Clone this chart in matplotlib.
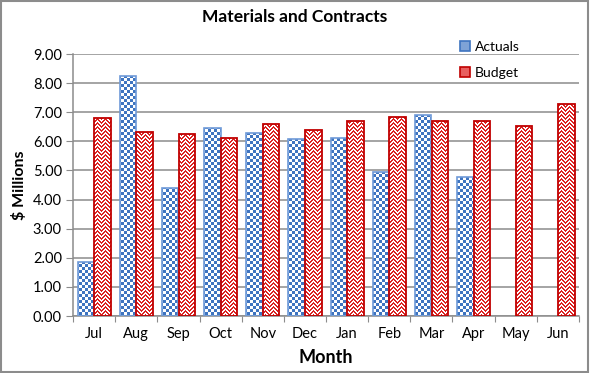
import matplotlib
matplotlib.use("Agg")
import matplotlib.pyplot as plt
import numpy as np
from matplotlib.path import Path
from matplotlib.patches import Patch, Rectangle

months = ['Jul', 'Aug', 'Sep', 'Oct', 'Nov', 'Dec', 'Jan', 'Feb', 'Mar', 'Apr', 'May', 'Jun']
actuals = [1.84, 8.23, 4.41, 6.47, 6.29, 6.08, 6.13, 4.95, 6.92, 4.79]
budget = [6.81, 6.33, 6.24, 6.11, 6.60, 6.40, 6.69, 6.85, 6.71, 6.71, 6.51, 7.27]

blue = '#3E74C0'
blue_edge = '#6E9AD8'
red = '#DC2222'
red_edge = '#C00000'

plt.rcParams['font.family'] = ['Lato', 'DejaVu Sans']

fig = plt.figure(figsize=(5.9, 3.73), dpi=100)
ax = fig.add_axes([73/590, 1-316/373, 506/590, 262/373])

x = np.arange(len(months))
w = 0.39
b1 = ax.bar(x[:len(actuals)] - w/2, actuals, width=w, facecolor='none',
            edgecolor=blue_edge, linewidth=1.2, zorder=3)
b2 = ax.bar(x - w/2 + w + 0.005, budget, width=w, facecolor='none',
            edgecolor=red_edge, linewidth=1.3, zorder=3)

ax.set_xlim(-0.5, len(months) - 0.5)
ax.set_ylim(0, 9)

# pattern fills, clipped to the bars
H, W = 262, 506
r, c = np.indices((H, W))
checker = ((r // 3 + c // 3) % 2 == 0)
zig = ((r + np.abs(c % 8 - 4)) % 4) < 2

def fill(bars, mask, color):
    rgb = np.array(matplotlib.colors.to_rgb(color))
    img = np.ones((H, W, 3))
    img[mask] = rgb
    im = ax.imshow(img, extent=(-0.5, len(months) - 0.5, 0, 9), aspect='auto',
                   interpolation='nearest', zorder=2, origin='upper')
    paths = []
    for p in bars:
        x0, y0 = p.get_x(), p.get_y()
        x1, y1 = x0 + p.get_width(), y0 + p.get_height()
        paths.append(Path([[x0, y0], [x1, y0], [x1, y1], [x0, y1], [x0, y0]], closed=True))
    im.set_clip_path(Path.make_compound_path(*paths), transform=ax.transData)

fill(b1, checker, blue)
fill(b2, zig, red)

ax.set_yticks(np.arange(0, 10, 1))
ax.set_yticklabels(['%.2f' % v for v in np.arange(0, 10, 1)], fontsize=10.5)
ax.yaxis.grid(True, color='#8C8C8C', linewidth=1.1, zorder=1)
ax.set_axisbelow(True)

ax.set_xticks(np.arange(-0.5, len(months), 1))
ax.set_xticklabels([])
ax.set_xticks(x, minor=True)
ax.set_xticklabels(months, minor=True, fontsize=10.5)
ax.tick_params(axis='x', which='minor', length=0, pad=8)
ax.tick_params(axis='x', which='major', length=4, color='#8C8C8C')
ax.tick_params(axis='y', length=5, color='#8C8C8C', pad=3)

for s in ['top', 'right']:
    ax.spines[s].set_visible(False)
for s in ['left', 'bottom']:
    ax.spines[s].set_color('#8C8C8C')
    ax.spines[s].set_linewidth(1.1)

ax.set_xlabel('Month', fontsize=13, fontweight='bold', labelpad=6)
ax.set_ylabel('$ Millions', fontsize=11.5, fontweight='bold', labelpad=4)
fig.text(0.5, 1 - 17/373, 'Materials and Contracts', ha='center', va='center',
         fontsize=12.5, fontweight='bold')

handles = [Patch(facecolor='#7FA3D6', edgecolor=blue, linewidth=1.2),
           Patch(facecolor='#E86060', edgecolor=red_edge, linewidth=1.2)]
fig.legend(handles, ['Actuals', 'Budget'], loc='upper left',
           bbox_to_anchor=(453/590, 1 - 34/373), frameon=False, fontsize=10,
           handlelength=0.75, handleheight=0.75, handletextpad=0.3,
           labelspacing=1.0, borderpad=0)

fig.patches.append(Rectangle((0.002, 0.003), 0.995, 0.994, transform=fig.transFigure,
                             fill=False, edgecolor='#8C8C8C', linewidth=1.5))

fig.savefig('out.png', dpi=100)
